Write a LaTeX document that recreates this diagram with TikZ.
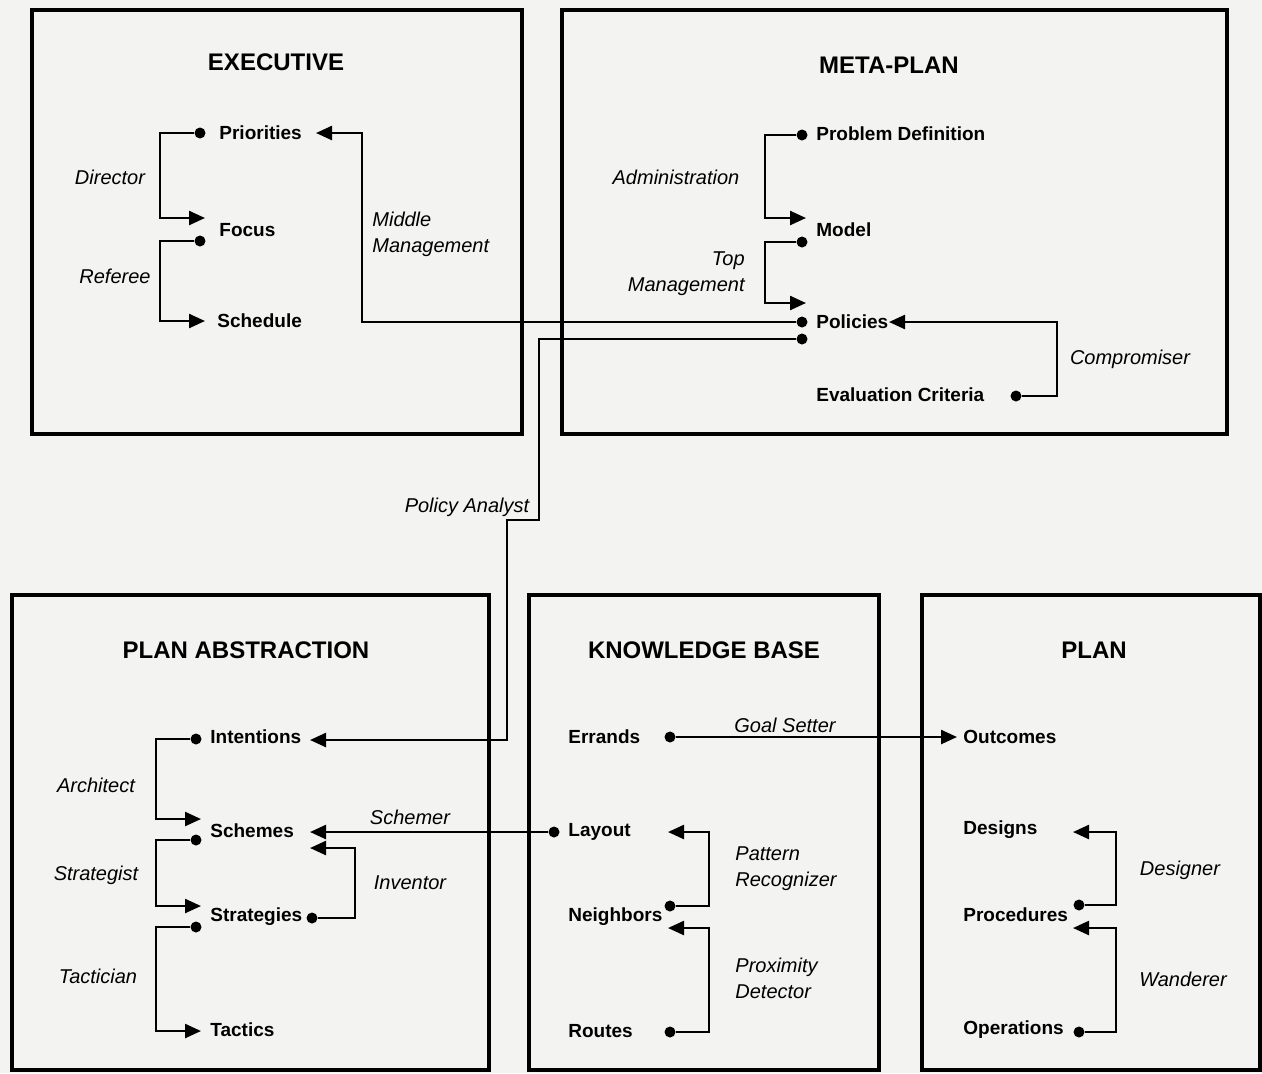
\documentclass[tikz,border=0pt]{standalone}
\usepackage{xcolor}
\usepackage{fontspec}
\setmainfont{Liberation Sans}
\usepackage{tikz}
\usetikzlibrary{positioning,arrows.meta}
\definecolor{paperGray}{RGB}{243,243,241}
\tikzset{
  panelBox/.style={
    rectangle,
    draw=black,
    line width=2pt,
    anchor=north west,
    inner sep=0pt
  },
  panelTitle/.style={
    font=\bfseries\fontsize{12}{14}\selectfont
  },
  itemText/.style={
    anchor=west,
    inner sep=0pt,
    font=\bfseries\fontsize{9.5}{11}\selectfont
  },
  roleLabel/.style={
    inner sep=0pt,
    font=\itshape\fontsize{10}{13}\selectfont
  },
  dotNode/.style={
    circle,
    fill=black,
    inner sep=0pt,
    minimum size=5.5pt
  },
  arrowLine/.style={
    -{Triangle[length=8pt,width=7pt]},
    line width=1.2pt
  }
}

\begin{document}
\begin{tikzpicture}[x=0.5pt,y=-0.5pt]
        \fill[paperGray] (0,0) rectangle (1262,1073);

        \node[panelBox, minimum width=245pt, minimum height=212pt] (executive) at (30,8) {};
        \node[panelBox, minimum width=332.5pt, minimum height=212pt] (metaPlan) at (560,8) {};
        \node[panelBox, minimum width=238.5pt, minimum height=237.5pt] (planAbstraction) at (10,593) {};
        \node[panelBox, minimum width=175pt, minimum height=237.5pt] (knowledgeBase) at (527,593) {};
        \node[panelBox, minimum width=169pt, minimum height=237.5pt] (plan) at (920,593) {};

        \node[panelTitle] (executiveTitle) at (276,62) {EXECUTIVE};
        \node[panelTitle] (metaPlanTitle) at (889,65) {META-PLAN};
        \node[panelTitle] (abstractionTitle) at (246,650) {PLAN ABSTRACTION};
        \node[panelTitle] (knowledgeTitle) at (704,650) {KNOWLEDGE BASE};
        \node[panelTitle] (planTitle) at (1094,650) {PLAN};

        \node[itemText] (priorities) at (219,133) {Priorities};
        \node[itemText] (focus) at (219,230) {Focus};
        \node[itemText] (schedule) at (217,321) {Schedule};
        \node[dotNode] (priDot) at (200,133) {};
        \node[dotNode] (focusDot) at (200,241) {};
        \coordinate (priTip) at (316,133);
        \coordinate (focusTip) at (205,218);
        \coordinate (schedTip) at (205,321);

        \node[itemText] (problem) at (816,134) {Problem Definition};
        \node[itemText] (model) at (816,230) {Model};
        \node[itemText] (policies) at (816,322) {Policies};
        \node[itemText] (evaluation) at (816,395) {Evaluation Criteria};
        \node[dotNode] (probDot) at (802,135) {};
        \node[dotNode] (modelDot) at (802,242) {};
        \node[dotNode] (polDot) at (802,322) {};
        \node[dotNode] (analystDot) at (802,339) {};
        \node[dotNode] (evalDot) at (1016,396) {};
        \coordinate (modelTip) at (806,218);
        \coordinate (polTopTip) at (806,303);
        \coordinate (polTip) at (889,322);

        \node[itemText] (intentions) at (210,737) {Intentions};
        \node[itemText] (schemes) at (210,831) {Schemes};
        \node[itemText] (strategies) at (210,917) {Strategies};
        \node[itemText] (tactics) at (210,1030) {Tactics};
        \node[dotNode] (intDot) at (196,739) {};
        \node[dotNode] (schDot) at (196,840) {};
        \node[dotNode] (stratDot) at (196,927) {};
        \node[dotNode] (inventDot) at (312,918) {};
        \coordinate (intTip) at (310,740);
        \coordinate (schTip) at (201,819);
        \coordinate (stratTip) at (201,906);
        \coordinate (tactTip) at (201,1031);
        \coordinate (schemerTip) at (310,832);
        \coordinate (inventTip) at (310,848);

        \node[itemText] (errands) at (568,737) {Errands};
        \node[itemText] (layout) at (568,832) {Layout};
        \node[itemText] (neighbors) at (568,917) {Neighbors};
        \node[itemText] (routes) at (568,1031) {Routes};
        \node[dotNode] (errDot) at (670,737) {};
        \node[dotNode] (layoutDot) at (554,832) {};
        \node[dotNode] (neighDot) at (670,906) {};
        \node[dotNode] (routeDot) at (670,1032) {};
        \coordinate (layoutTip) at (668,832);
        \coordinate (neighTip) at (668,928);

        \node[itemText] (outcomes) at (963,737) {Outcomes};
        \node[itemText] (designs) at (963,830) {Designs};
        \node[itemText] (procedures) at (963,915) {Procedures};
        \node[itemText] (operations) at (963,1030) {Operations};
        \node[dotNode] (procDot) at (1079,905) {};
        \node[dotNode] (operDot) at (1079,1032) {};
        \coordinate (outTip) at (957,737);
        \coordinate (desTip) at (1073,832);
        \coordinate (procTip) at (1073,928);

        \draw[arrowLine] (priDot) -- ++(-40,0) |- (focusTip);
        \draw[arrowLine] (focusDot) -- ++(-40,0) |- (schedTip);
        \draw[arrowLine] (polDot) -- ++(-440,0) |- (priTip);
        \draw[arrowLine] (probDot) -- ++(-37,0) |- (modelTip);
        \draw[arrowLine] (modelDot) -- ++(-37,0) |- (polTopTip);
        \draw[arrowLine] (evalDot) -- ++(41,0) |- (polTip);
        \draw[arrowLine] (analystDot) -- ++(-263,0) -- ++(0,181) -- ++(-32,0) |- (intTip);
        \draw[arrowLine] (intDot) -- ++(-40,0) |- (schTip);
        \draw[arrowLine] (schDot) -- ++(-40,0) |- (stratTip);
        \draw[arrowLine] (stratDot) -- ++(-40,0) |- (tactTip);
        \draw[arrowLine] (layoutDot) -- (schemerTip);
        \draw[arrowLine] (inventDot) -- ++(43,0) |- (inventTip);
        \draw[arrowLine] (errDot) -- (outTip);
        \draw[arrowLine] (neighDot) -- ++(39,0) |- (layoutTip);
        \draw[arrowLine] (routeDot) -- ++(39,0) |- (neighTip);
        \draw[arrowLine] (procDot) -- ++(37,0) |- (desTip);
        \draw[arrowLine] (operDot) -- ++(37,0) |- (procTip);

        \node[roleLabel] (director) at (110,177) {Director};
        \node[roleLabel] (referee) at (115,276) {Referee};
        \node[roleLabel, anchor=west, align=left] (middle) at (372,234) {Middle\\Management};
        \node[roleLabel] (administration) at (676,177) {Administration};
        \node[roleLabel, anchor=east, align=right] (top) at (745,274) {Top\\Management};
        \node[roleLabel] (compromiser) at (1130,359) {Compromiser};
        \node[roleLabel] (analyst) at (467,507) {Policy Analyst};
        \node[roleLabel] (architect) at (96,785) {Architect};
        \node[roleLabel] (strategist) at (96,875) {Strategist};
        \node[roleLabel] (tactician) at (98,976) {Tactician};
        \node[roleLabel] (schemer) at (410,817) {Schemer};
        \node[roleLabel] (inventor) at (410,883) {Inventor};
        \node[roleLabel] (goalSetter) at (785,725) {Goal Setter};
        \node[roleLabel, anchor=west, align=left] (pattern) at (735,869) {Pattern\\Recognizer};
        \node[roleLabel, anchor=west, align=left] (proximity) at (735,978) {Proximity\\Detector};
        \node[roleLabel] (designer) at (1180,870) {Designer};
        \node[roleLabel] (wanderer) at (1183,979) {Wanderer};

    \end{tikzpicture}
\end{document}
